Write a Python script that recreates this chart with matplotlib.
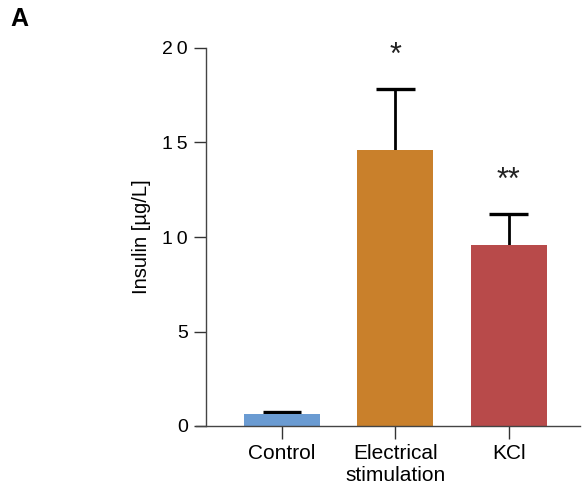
import numpy as np
import matplotlib.pyplot as plt

plt.rcParams['font.family'] = ['Liberation Sans', 'DejaVu Sans']

# insulin secretion per condition (mean and upper SEM)
groups = ["Control", "Electrical\nstimulation", "KCl"]
insulin = [0.63, 14.6, 9.6]
sem = [0.12, 3.23, 1.62]
stars = ["", "*", "**"]
colors = ["#6a9bd2", "#c9802b", "#b84a4a"]
yticks = [0, 5, 10, 15, 20]
ytick_labels = ["0", "5", "1\u20090", "1\u20095", "2\u20090"]

fig = plt.figure(figsize=(5.86, 5.0), dpi=100)
ax = fig.add_axes([0.3515, 0.148, 0.6385, 0.756])

x = np.arange(len(groups))
top = np.array(insulin) + np.array(sem)
ax.bar(x, insulin, width=0.67, color=colors, zorder=2)
# upper error only: stem from bar top to cap
ax.vlines(x, insulin, top, color='black', linewidth=2.0, zorder=1)
ax.hlines(top, x - 0.17, x + 0.17, color='black', linewidth=2.4, zorder=1)

for xi, t, s in zip(x, top, stars):
    if s:
        ax.text(xi, t + 1.75, s, ha='center', va='center', fontsize=22,
                color='#222222')

ax.set_xlim(-0.67, 2.63)
ax.set_ylim(0, 20)
ax.set_yticks(yticks)
ax.set_yticklabels(ytick_labels, fontsize=14)
ax.set_xticks(x)
ax.set_xticklabels(groups, fontsize=15)
ax.set_ylabel("Insulin [\u00b5g/L]", fontsize=14.5, labelpad=8)

for side in ['top', 'right']:
    ax.spines[side].set_visible(False)
ax.spines['left'].set_linewidth(1.0)
ax.spines['bottom'].set_linewidth(1.0)
ax.spines['bottom'].set_bounds(-0.76, 2.63)
ax.tick_params(axis='both', direction='out', length=9, width=1.0, colors='#333333',
               labelcolor='black')
ax.tick_params(axis='y', pad=4)
ax.tick_params(axis='x', pad=4)
ax.spines['left'].set_color('#444444')
ax.spines['bottom'].set_color('#444444')

fig.text(0.017, 0.962, "A", fontsize=18, fontweight='bold', ha='left', va='center')

fig.savefig("out.png", dpi=100)
